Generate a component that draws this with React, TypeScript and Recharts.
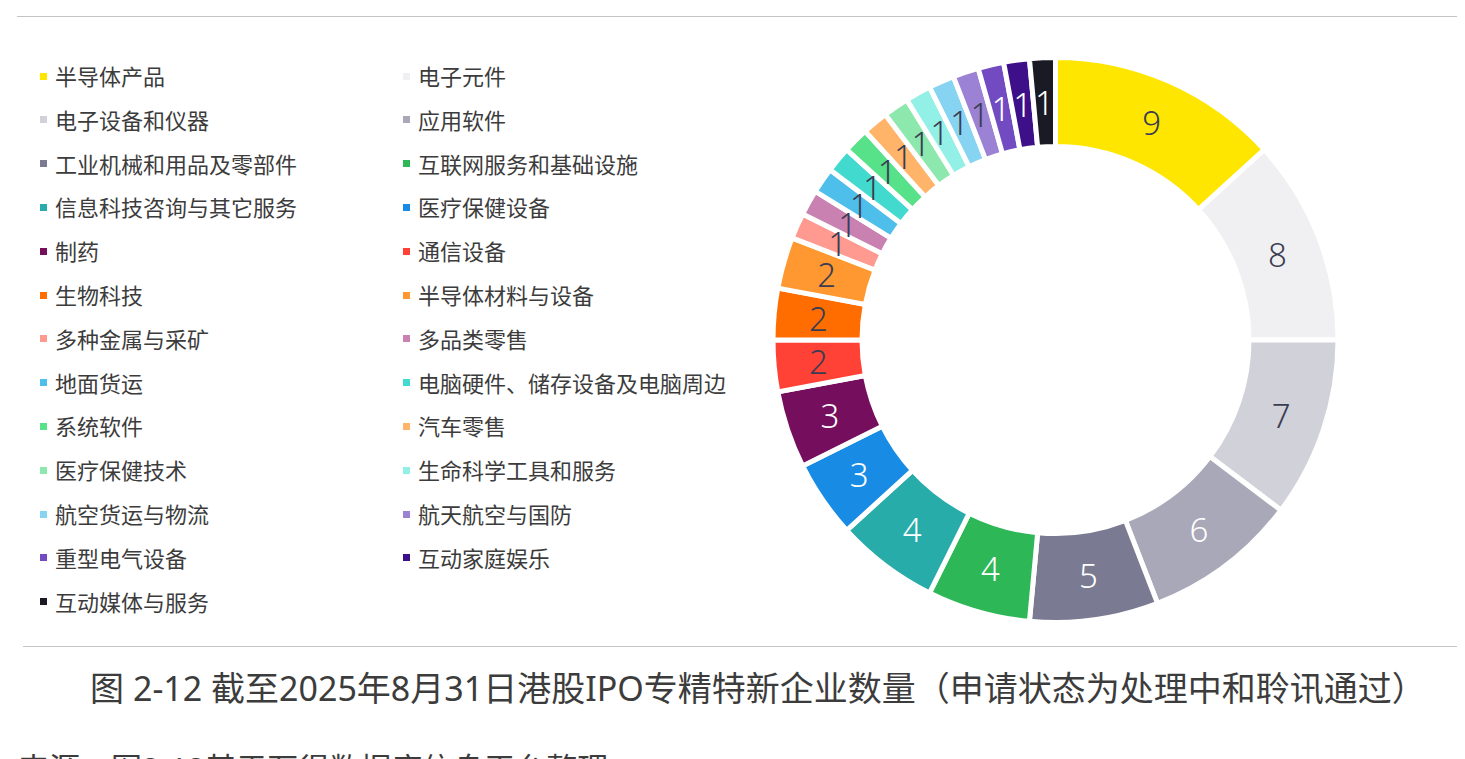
import React from "react";
import { PieChart, Pie, Cell } from "recharts";

const categories = [
  "半导体产品",
  "电子元件",
  "电子设备和仪器",
  "应用软件",
  "工业机械和用品及零部件",
  "互联网服务和基础设施",
  "信息科技咨询与其它服务",
  "医疗保健设备",
  "制药",
  "通信设备",
  "生物科技",
  "半导体材料与设备",
  "多种金属与采矿",
  "多品类零售",
  "地面货运",
  "电脑硬件、储存设备及电脑周边",
  "系统软件",
  "汽车零售",
  "医疗保健技术",
  "生命科学工具和服务",
  "航空货运与物流",
  "航天航空与国防",
  "重型电气设备",
  "互动家庭娱乐",
  "互动媒体与服务",
];

const counts = [9, 8, 7, 6, 5, 4, 4, 3, 3, 2, 2, 2, 1, 1, 1, 1, 1, 1, 1, 1, 1, 1, 1, 1, 1];

const palette = [
  "#FFE600",
  "#F0F0F2",
  "#D1D1DA",
  "#A8A8B8",
  "#7A7A92",
  "#2DB757",
  "#27ACAA",
  "#188CE5",
  "#750E5C",
  "#FF4136",
  "#FF6D00",
  "#FF9831",
  "#FF9A91",
  "#C981B2",
  "#4EBEEB",
  "#42DACF",
  "#57E188",
  "#FFB46A",
  "#8CE8AD",
  "#93F0E6",
  "#87D3F2",
  "#9C82D4",
  "#724BC3",
  "#3D108A",
  "#1A1A24",
];

const whiteLabelIdx = [3, 4, 5, 6, 7, 8, 22, 23, 24];

const titleText = "图 2-12 截至2025年8月31日港股IPO专精特新企业数量（申请状态为处理中和聆讯通过）";
const sourceText = "来源：图2-12基于万得数据库信息平台整理";

const data = categories.map((name, i) => ({ name, value: counts[i] }));

const RADIAN = Math.PI / 180;

const renderLabel = (props: any) => {
  const { cx, cy, midAngle, innerRadius, outerRadius, index, value } = props;
  const r = (innerRadius + outerRadius) / 2;
  const x = cx + r * Math.cos(-midAngle * RADIAN);
  const y = cy + r * Math.sin(-midAngle * RADIAN);
  const fill = whiteLabelIdx.includes(index) ? "#ffffff" : "#3a3d52";
  return (
    <text
      x={x}
      y={y}
      fill={fill}
      textAnchor="middle"
      dominantBaseline="central"
      fontSize={33}
      fontFamily="'Noto Sans', 'DejaVu Sans', sans-serif"
      fontWeight={300}
    >
      {value}
    </text>
  );
};

const FONT = "'Noto Sans', 'Noto Sans CJK SC', sans-serif";

export default function App() {
  return (
    <div style={{ position: "relative", width: 1449, height: 751, fontFamily: FONT, overflow: "visible" }}>
      <div style={{ position: "absolute", left: 9, top: 8, width: 1440, height: 1, background: "#c4c4c4" }} />
      <div style={{ position: "absolute", left: 15, top: 638, width: 1434, height: 1, background: "#c4c4c4" }} />
      <div style={{ position: "absolute", left: 0, top: 0 }}>
        <PieChart width={1449} height={640}>
          <Pie
            data={data}
            dataKey="value"
            nameKey="name"
            cx={1042.5}
            cy={327}
            innerRadius={193.5}
            outerRadius={282.5}
            startAngle={90}
            endAngle={-270}
            stroke="#ffffff"
            strokeWidth={5}
            label={renderLabel}
            labelLine={false}
            isAnimationActive={false}
          >
            {data.map((d, i) => (
              <Cell key={d.name} fill={palette[i]} />
            ))}
          </Pie>
        </PieChart>
      </div>
      {categories.map((name, i) => {
        const col = i % 2;
        const row = Math.floor(i / 2);
        const top = 68 + row * 43.8 - 16;
        const left = col === 0 ? 32 : 395;
        return (
          <div
            key={name}
            style={{
              position: "absolute",
              left,
              top,
              height: 32,
              display: "flex",
              alignItems: "center",
              fontSize: 22,
              color: "#3c3c3c",
              whiteSpace: "nowrap",
              lineHeight: "32px",
            }}
          >
            <span style={{ display: "inline-block", width: 7, height: 7, background: palette[i], marginRight: 8 }} />
            <span>{name}</span>
          </div>
        );
      })}
      <div
        style={{
          position: "absolute",
          left: 0,
          width: 1500,
          top: 660,
          textAlign: "center",
          fontSize: 34,
          lineHeight: "40px",
          color: "#3c3c3c",
          whiteSpace: "nowrap",
        }}
      >
        {titleText}
      </div>
      <div
        style={{
          position: "absolute",
          left: 10,
          top: 745,
          fontSize: 31,
          lineHeight: 1,
          color: "#3c3c3c",
          whiteSpace: "nowrap",
        }}
      >
        {sourceText}
      </div>
    </div>
  );
}
